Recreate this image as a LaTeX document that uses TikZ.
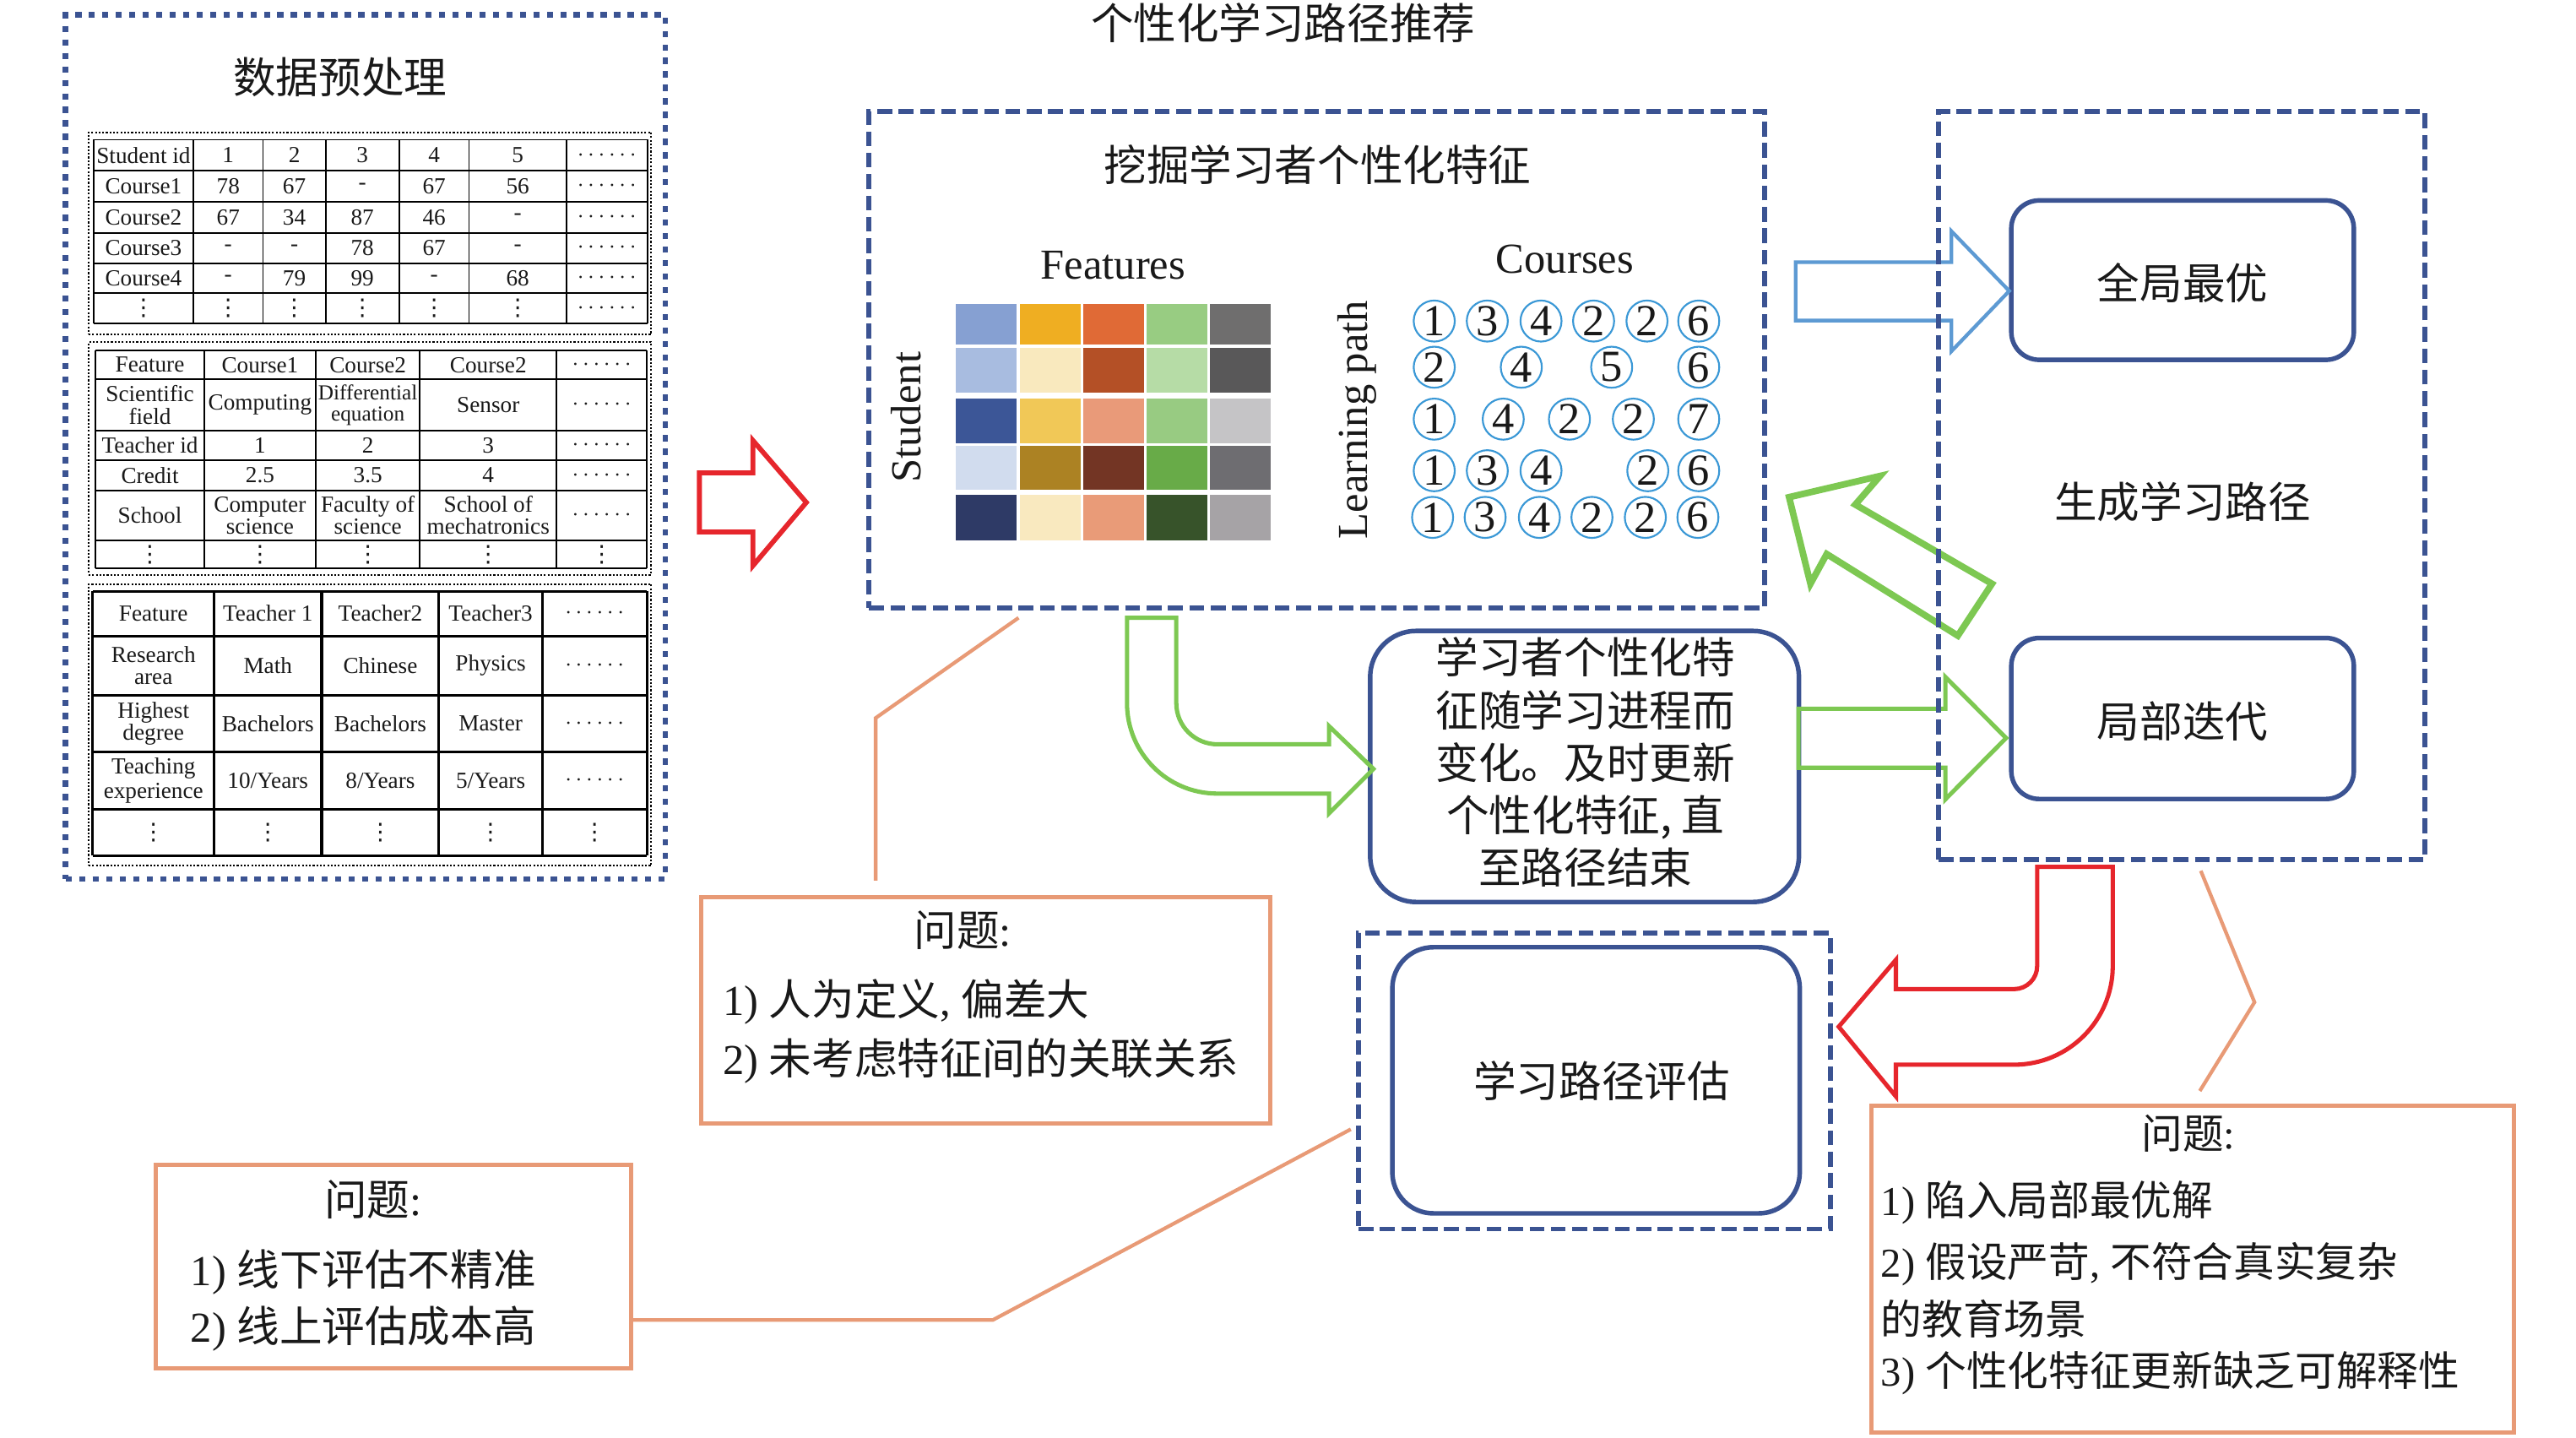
\documentclass[tikz,border=0pt]{standalone}
\usepackage{fontspec}
\setmainfont{Liberation Serif}
\newfontfamily\cjk{Noto Sans CJK SC}
\newfontfamily\djv{DejaVu Sans}
\newcommand\zh[1]{{\cjk #1}}
\newcommand\hdts{$\cdots\cdots$}
\newcommand\vdts{{\djv ⋮}}
\usetikzlibrary{shapes.geometric}
\definecolor{dblue}{RGB}{59,83,146}
\definecolor{orn}{RGB}{232,154,118}
\definecolor{grn}{RGB}{125,200,82}
\definecolor{rd}{RGB}{230,38,44}
\definecolor{lblue}{RGB}{93,154,211}
\definecolor{cblue}{RGB}{58,152,214}
\definecolor{txt}{RGB}{25,25,25}
\begin{document}
\begin{tikzpicture}[x=1pt,y=-1pt,
  every node/.style={inner sep=0pt,outer sep=0pt,text=txt},
  zhbig/.style={font=\fontsize{26}{32}\selectfont\cjk},
  tcell/.style={font=\fontsize{14}{13.5}\selectfont,align=center},
  tline/.style={draw=black,line width=0.9pt},
  tlinethick/.style={draw=black,line width=1.6pt},
  tframe/.style={draw=black,line width=1pt,dash pattern=on 1.1pt off 1.1pt},
  dotbox/.style={draw=dblue,line width=3.5pt,dash pattern=on 3.8pt off 4.4pt},
  dashbox/.style={draw=dblue,line width=3pt,dash pattern=on 9pt off 4pt},
  rbox/.style={draw=dblue,line width=2.8pt,rounded corners=17pt},
  probbox/.style={draw=orn,line width=2.6pt},
  ptext/.style={font=\fontsize{26}{30}\selectfont,anchor=west},
  leader/.style={draw=orn,line width=2.2pt},
  cnum/.style={circle,draw=cblue,line width=1.1pt,minimum size=25pt,font=\fontsize{27}{27}\selectfont},
  redarr/.style={draw=rd,line width=3pt,line join=miter},
  grnarr/.style={draw=grn,line width=2.6pt,line join=miter},
  bluarr/.style={draw=lblue,line width=2.2pt,line join=miter}
]
\fill[white] (0,0) rectangle (1568,875);
\useasboundingbox (0,0) rectangle (1568,875);

% ---------- title ----------
\node[zhbig] (title) at (781,14) {个性化学习路径推荐};

% ---------- left: data preprocessing ----------
\node[dotbox,minimum width=365pt,minimum height=526pt] (prebox) at (222.5,272) {};
\node[zhbig] (pretitle) at (207,47) {数据预处理};

% table 1
\node[tframe,minimum width=342.5pt,minimum height=123pt] (tf1) at (225.2,142) {};
\foreach \x in {57,117.7,160.1,198.2,243.0,285.5,344.8,394} \draw[tline] (\x,85) -- (\x,197);
\foreach \y in {85,104,122.7,141.7,160.2,178.5,197} \draw[tline] (57,\y) -- (394,\y);
\foreach \x/\t [count=\c] in {87.35/Student id,138.9/1,179.15/2,220.6/3,264.25/4,315.15/5,369.4/\hdts}
  \node[tcell] (ta-1-\c) at (\x,94.5) {\t};
\foreach \x/\t [count=\c] in {87.35/Course1,138.9/78,179.15/67,220.6/-,264.25/67,315.15/56,369.4/\hdts}
  \node[tcell] (ta-2-\c) at (\x,113.35) {\t};
\foreach \x/\t [count=\c] in {87.35/Course2,138.9/67,179.15/34,220.6/87,264.25/46,315.15/-,369.4/\hdts}
  \node[tcell] (ta-3-\c) at (\x,132.2) {\t};
\foreach \x/\t [count=\c] in {87.35/Course3,138.9/-,179.15/-,220.6/78,264.25/67,315.15/-,369.4/\hdts}
  \node[tcell] (ta-4-\c) at (\x,150.95) {\t};
\foreach \x/\t [count=\c] in {87.35/Course4,138.9/-,179.15/79,220.6/99,264.25/-,315.15/68,369.4/\hdts}
  \node[tcell] (ta-5-\c) at (\x,169.35) {\t};
\foreach \x/\t [count=\c] in {87.35/\vdts,138.9/\vdts,179.15/\vdts,220.6/\vdts,264.25/\vdts,315.15/\vdts,369.4/\hdts}
  \node[tcell] (ta-6-\c) at (\x,187.75) {\t};

% table 2
\node[tframe,minimum width=342.5pt,minimum height=141.5pt] (tf2) at (225.2,279) {};
\foreach \x in {58.2,124.3,192.2,255.6,338.8,393.8} \draw[tline] (\x,213.3) -- (\x,346);
\foreach \y in {213.3,230.9,262.1,280.1,298.4,328.9,346} \draw[tline] (58.2,\y) -- (393.8,\y);
\foreach \x/\t [count=\c] in {91.25/Feature,158.25/Course1,223.9/Course2,297.2/Course2,366.3/\hdts}
  \node[tcell] (tb-1-\c) at (\x,222.1) {\t};
\node[tcell] (tb-2-1) at (91.25,246.5) {Scientific\\field};
\node[tcell] (tb-2-2) at (158.25,246.5) {Computing};
\node[tcell,font=\fontsize{13}{12.5}\selectfont] (tb-2-3) at (223.9,246.5) {Differential\\equation};
\node[tcell] (tb-2-4) at (297.2,246.5) {Sensor};
\node[tcell] (tb-2-5) at (366.3,246.5) {\hdts};
\foreach \x/\t [count=\c] in {91.25/Teacher id,158.25/1,223.9/2,297.2/3,366.3/\hdts}
  \node[tcell] (tb-3-\c) at (\x,271.1) {\t};
\foreach \x/\t [count=\c] in {91.25/Credit,158.25/2.5,223.9/3.5,297.2/4,366.3/\hdts}
  \node[tcell] (tb-4-\c) at (\x,289.25) {\t};
\foreach \x/\t [count=\c] in {91.25/School,158.25/Computer\\science,223.9/Faculty of\\science,297.2/School of\\mechatronics,366.3/\hdts}
  \node[tcell] (tb-5-\c) at (\x,313.65) {\t};
\foreach \x [count=\c] in {91.25,158.25,223.9,297.2,366.3}
  \node[tcell] (tb-6-\c) at (\x,337.45) {\vdts};

% table 3
\node[tframe,minimum width=342.5pt,minimum height=171.5pt] (tf3) at (225.2,441.25) {};
\foreach \x in {56.5,130.3,195.8,267.2,330.1,393.8} \draw[tlinethick] (\x,359.8) -- (\x,520.8);
\foreach \y in {359.8,387.1,423.1,457.7,492.5,520.8} \draw[tlinethick] (56.5,\y) -- (393.8,\y);
\foreach \x/\t [count=\c] in {93.4/Feature,163.05/Teacher 1,231.5/Teacher2,298.65/Teacher3,361.95/\hdts}
  \node[tcell] (tc-1-\c) at (\x,373.45) {\t};
\foreach \x/\t [count=\c] in {93.4/Research\\area,163.05/Math,231.5/Chinese,298.65/Physics,361.95/\hdts}
  \node[tcell] (tc-2-\c) at (\x,405.1) {\t};
\foreach \x/\t [count=\c] in {93.4/Highest\\degree,163.05/Bachelors,231.5/Bachelors,298.65/Master,361.95/\hdts}
  \node[tcell] (tc-3-\c) at (\x,440.4) {\t};
\foreach \x/\t [count=\c] in {93.4/{Teaching\\experience},163.05/{10/Years},231.5/{8/Years},298.65/{5/Years},361.95/\hdts}
  \node[tcell,font=\fontsize{14}{14.5}\selectfont] (tc-4-\c) at (\x,475.1) {\t};
\foreach \x [count=\c] in {93.4,163.05,231.5,298.65,361.95}
  \node[tcell] (tc-5-\c) at (\x,506.65) {\vdts};

% red arrow left
\draw[redarr] (425.7,287.8) -- (458.3,287.8) -- (458.3,268.1) -- (490.8,305.8) -- (458.3,344.3) -- (458.3,323.8) -- (425.7,323.8) -- cycle;

% ---------- middle: feature mining ----------
\node[zhbig] (minetitle) at (802,100) {挖掘学习者个性化特征};
\node[font=\fontsize{26}{26}\selectfont] (feat) at (677.5,161.5) {Features};
\node[font=\fontsize{26}{26}\selectfont] (cour) at (952.5,157.6) {Courses};
\node[font=\fontsize{26}{26}\selectfont,rotate=90] (stud) at (551.4,254) {Student};
\node[font=\fontsize{26}{26}\selectfont,rotate=90] (lpath) at (826,255.5) {Learning path};

\foreach \ya/\yb/\cols in {
  185/209.9/{86A0D2,EFAE22,E06A36,98CC82,6F6E6E},
  211.8/238.9/{A8BCE0,F9E9BE,B45026,B6DCA6,595859},
  242.4/269.6/{3C5697,F1C857,E99A79,98CB82,C5C4C6},
  271.2/298.3/{D1DCEE,AC8223,733524,68AB48,6E6D71},
  301.3/328.7/{2E3A66,F9E9BF,E99B78,37532A,A6A3A6}}{
  \foreach \h [count=\c] in \cols {
    \definecolor{cellc}{HTML}{\h}
    \pgfmathsetmacro\xl{582+(\c-1)*38.65}
    \fill[cellc] (\xl,\ya) rectangle ({\xl+37},\yb);
  }
}

\foreach \x/\n [count=\c] in {873/1,905.3/3,938/4,970/2,1002.5/2,1034/6}
  \node[cnum] (ca-\c) at (\x,195.4) {\n};
\foreach \x/\n [count=\c] in {873/2,926/4,981/5,1034/6}
  \node[cnum] (cb-\c) at (\x,223.5) {\n};
\foreach \x/\n [count=\c] in {873/1,915/4,955.3/2,994.2/2,1034/7}
  \node[cnum] (cc-\c) at (\x,255.1) {\n};
\foreach \x/\n [count=\c] in {873/1,905.3/3,938/4,1003/2,1034/6}
  \node[cnum] (cd-\c) at (\x,286.5) {\n};
\foreach \x/\n [count=\c] in {872/1,904/3,937/4,969/2,1001.5/2,1033.5/6}
  \node[cnum] (ce-\c) at (\x,314.9) {\n};

% ---------- rounded boxes ----------
\node[rbox,rounded corners=28pt,minimum width=261pt,minimum height=165pt] (midbox) at (964.5,466.5) {};
\node[zhbig,align=center] (midtxt) at (965,464) {学习者个性化特\\征随学习进程而\\变化。及时更新\\个性化特征, 直\\至路径结束};
\node[rbox,minimum width=208.5pt,minimum height=97pt] (gopt) at (1328.5,170.5) {};
\node[zhbig] (gopttxt) at (1328.5,172) {全局最优};
\node[rbox,minimum width=208.5pt,minimum height=98pt] (liter) at (1328.5,437.3) {};
\node[zhbig] (litertxt) at (1328.5,439) {局部迭代};
\node[zhbig] (gentxt) at (1328.5,305.6) {生成学习路径};
\node[rbox,rounded corners=25pt,minimum width=248pt,minimum height=162pt] (evalbox) at (971.5,657.5) {};
\node[zhbig] (evaltxt) at (975,658) {学习路径评估};

% ---------- arrows ----------
\draw[bluarr] (1093,159.6) -- (1187.8,159.6) -- (1187.8,140.7) -- (1223,177.1) -- (1187.8,213.8) -- (1187.8,195.1) -- (1093,195.1) -- cycle;
\draw[grnarr,line width=4pt] (1089,302.6) -- (1144.4,289.7) -- (1129.3,307.1) -- (1212.5,355.3) -- (1191.7,386.9) -- (1111.9,337.2) -- (1102,355.3) -- cycle;
\draw[grnarr] (1094.7,431.4) -- (1184.1,431.4) -- (1184.1,412) -- (1221.1,449.2) -- (1184.1,486.5) -- (1184.1,467.3) -- (1094.7,467.3) -- cycle;
\draw[grnarr] (686,376) -- (716,376) -- (716,428) .. controls (716,441.8) and (727.2,453) .. (741,453) -- (809,453) -- (809,442) -- (836,468) -- (809,495) -- (809,483) -- (741,483) .. controls (710.6,483) and (686,458.4) .. (686,428) -- cycle;
\draw[redarr,line width=2.6pt] (1240,527.6) -- (1286,527.6) -- (1286,588) .. controls (1286,621.1) and (1259.1,648) .. (1226,648) -- (1154,648) -- (1154,667.3) -- (1119.2,624.9) -- (1154,584.2) -- (1154,602) -- (1226,602) .. controls (1233.7,602) and (1240,595.7) .. (1240,588) -- cycle;

% ---------- dashed boxes ----------
\node[dashbox,minimum width=545pt,minimum height=302pt] (minebox) at (801.5,219) {};
\node[dashbox,minimum width=296pt,minimum height=455pt] (genbox) at (1328,295.5) {};
\node[dashbox,minimum width=287pt,minimum height=180pt] (evaldash) at (970.5,658) {};

% ---------- problem boxes ----------
\node[probbox,minimum width=346pt,minimum height=138pt] (probA) at (600,615) {};
\node[font=\fontsize{26}{30}\selectfont] (pAt) at (586,566) {\zh{问题}:};
\node[ptext] (pA1) at (440,610) {1) \zh{人为定义}, \zh{偏差大}};
\node[ptext] (pA2) at (440,646) {2) \zh{未考虑特征间的关联关系}};

\node[probbox,minimum width=289pt,minimum height=124pt] (probB) at (239.5,771) {};
\node[font=\fontsize{26}{30}\selectfont] (pBt) at (227,730) {\zh{问题}:};
\node[ptext] (pB1) at (116,774.3) {1) \zh{线下评估不精准}};
\node[ptext] (pB2) at (116,808.6) {2) \zh{线上评估成本高}};

\node[probbox,minimum width=391pt,minimum height=199pt] (probC) at (1334.5,772.5) {};
\node[font=\fontsize{25}{30}\selectfont] (pCt) at (1332,690) {\zh{问题}:};
\node[ptext,font=\fontsize{25}{30}\selectfont] (pC1) at (1145,731.7) {1) \zh{陷入局部最优解}};
\node[ptext,font=\fontsize{25}{30}\selectfont] (pC2) at (1145,769.5) {2) \zh{假设严苛}, \zh{不符合真实复杂}};
\node[ptext,font=\fontsize{25}{30}\selectfont] (pC3) at (1145,802.7) {\zh{的教育场景}};
\node[ptext,font=\fontsize{25}{30}\selectfont] (pC4) at (1145,835.9) {3) \zh{个性化特征更新缺乏可解释性}};

% ---------- leader lines ----------
\coordinate (la0) at (533,536);
\coordinate (la1) at (533,437);
\coordinate (la2) at (620,376);
\draw[leader] (la0) -- (la1) -- (la2);
\coordinate (lb1) at (604.3,803.4);
\coordinate (lb2) at (822.2,687.3);
\draw[leader] (probB.east |- lb1) -- (lb1) -- (lb2);
\coordinate (lc0) at (1339.6,530);
\coordinate (lc1) at (1372.3,610);
\coordinate (lc2) at (1339,664);
\draw[leader] (lc0) -- (lc1) -- (lc2);
\end{tikzpicture}
\end{document}
